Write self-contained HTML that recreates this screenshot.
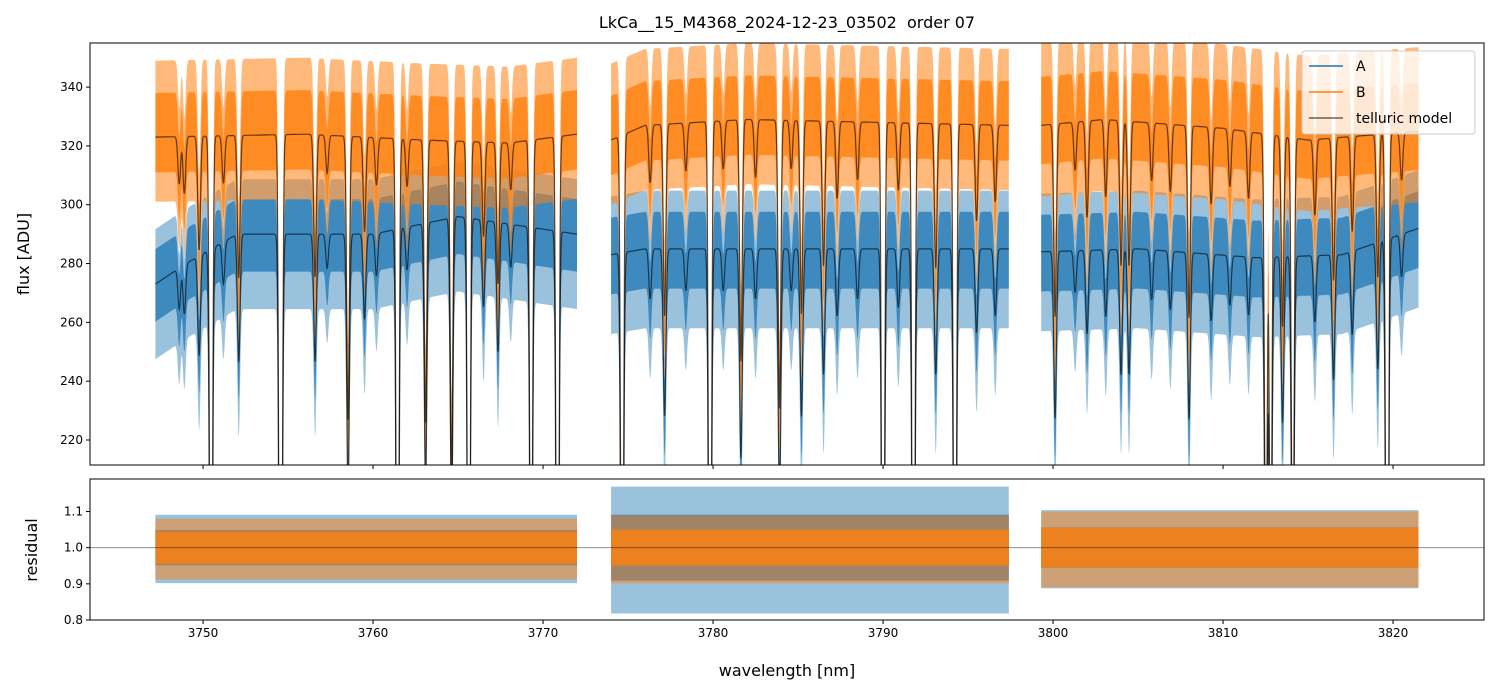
<!DOCTYPE html>
<html><head><meta charset="utf-8"><style>
html,body{margin:0;background:#fff;overflow:hidden;width:1499px;height:696px}
svg{display:block}
svg text{font-family:"DejaVu Sans","Liberation Sans",sans-serif}
</style></head><body>
<svg id="c" width="1499" height="696" xmlns="http://www.w3.org/2000/svg" style="position:absolute;left:0;top:0"></svg>
<script>
const segments=[[3747.2,3772.0],[3774.0,3797.4],[3799.3,3821.5]];
const contAknots=[[[3747.2,273],[3749,280],[3752,290],[3760,290],[3765,296],[3772,290]],[[3774,283],[3776,285],[3797.4,285]],[[3799.3,284],[3805,285],[3812,282],[3817,283],[3821.5,292]]];
const contBknots=[[[3747.2,323],[3756,324],[3763,322],[3768,321],[3772,324]],[[3774,322],[3776,327],[3782,329],[3797.4,327]],[[3799.3,327],[3803,329],[3810,326],[3815,322],[3821.5,325]]];
const lineCenters=[3749.77,3750.47,3752.1,3754.55,3754.6,3756.59,3758.53,3761.44,3763.09,3764.62,3765.63,3767.35,3769.3,3770.85,3774.65,3777.15,3779.82,3781.64,3783.91,3785.2,3790.0,3791.79,3794.23,3793.1,3800.12,3804.0,3804.47,3808.0,3812.52,3812.8,3813.5,3814.1,3819.1,3819.65,3759.5,3766.5,3786.5,3802.0,3816.5,3748.6,3748.9,3751.2,3757.3,3760.2,3762.0,3768.1,3776.3,3778.4,3780.6,3782.5,3784.6,3787.3,3788.5,3790.9,3795.5,3796.6,3801.3,3803.1,3805.8,3806.9,3809.3,3810.4,3811.5,3815.4,3817.6,3820.5];
const lineDepths=[0.12,0.75,0.15,0.75,0.3,0.15,0.3,0.7,0.3,0.35,0.75,0.15,0.6,0.75,0.7,0.2,0.75,0.25,0.3,0.2,0.75,0.75,0.75,0.15,0.2,0.15,0.15,0.2,0.5,0.5,0.2,0.5,0.15,0.8,0.1,0.1,0.15,0.1,0.15,0.05,0.06,0.05,0.04,0.05,0.05,0.05,0.06,0.05,0.05,0.06,0.05,0.08,0.06,0.07,0.1,0.08,0.05,0.08,0.06,0.07,0.08,0.06,0.07,0.08,0.1,0.05];
const noiseA=[17,18,18], noiseB=[20,20,22];
const resA=[0.07,0.13,0.08], resB=[0.08,0.09,0.1];
const xTicks=[3750,3760,3770,3780,3790,3800,3810,3820];
const yTicksTop=[220,240,260,280,300,320,340];
const yTicksBot=[0.8,0.9,1.0,1.1];

const NS="http://www.w3.org/2000/svg",svg=document.getElementById('c');
function el(t,a,p){const e=document.createElementNS(NS,t);for(const k in a)e.setAttribute(k,a[k]);(p||svg).appendChild(e);return e;}
function nm(e,n){return e;}
const L=90,R=1484,T1=43,B1=465,T2=479,B2=620;
const x=v=>L+(v-3743.35)/(3825.35-3743.35)*(R-L);
const y1=v=>B1-(v-211.5)/(355-211.5)*(B1-T1);
const y2=v=>B2-(v-0.8)/(1.19-0.8)*(B2-T2);
function interp(kn,l){if(l<=kn[0][0])return kn[0][1];for(let i=1;i<kn.length;i++)if(l<=kn[i][0]){const t=(l-kn[i-1][0])/(kn[i][0]-kn[i-1][0]);return kn[i-1][1]+t*(kn[i][1]-kn[i-1][1]);}return kn[kn.length-1][1];}
function tell(l){let f=1;for(let i=0;i<lineCenters.length;i++){const d=(l-lineCenters[i])/0.11;f*=1-lineDepths[i]*Math.exp(-d*d);}return f;}
const defs=el('defs',{});const cp=el('clipPath',{id:'cp1'},defs);el('rect',{x:L,y:T1,width:R-L,height:B1-T1},cp);
const cp2=el('clipPath',{id:'cp2'},defs);el('rect',{x:L,y:T2,width:R-L,height:B2-T2},cp2);
const g1=nm(el('g',{'clip-path':'url(#cp1)'}),'flux-plot-area');
function band(g,seg,fnLo,fnHi,col,op,name){let up=[],lo=[];for(let l=seg[0];l<=seg[1];l+=0.02){up.push(x(l).toFixed(1)+','+fnHi(l).toFixed(1));lo.unshift(x(l).toFixed(1)+','+fnLo(l).toFixed(1));}nm(el('polygon',{points:up.concat(lo).join(' '),fill:col,'fill-opacity':op},g),name);}
function model(g,seg,kn,name){let pts=[];for(let l=seg[0];l<=seg[1];l+=0.02)pts.push(x(l).toFixed(1)+','+y1(interp(kn,l)*tell(l)).toFixed(1));nm(el('polyline',{points:pts.join(' '),fill:'none',stroke:'#000','stroke-opacity':0.6,'stroke-width':1.2},g),name);}
segments.forEach((s,i)=>{
 const mA=l=>interp(contAknots[i],l)*tell(l), mB=l=>interp(contBknots[i],l)*tell(l);
 band(g1,s,l=>y1(mA(l)-noiseA[i]*1.5),l=>y1(mA(l)+noiseA[i]*1.1),'#1f77b4',0.45,'series-a-outer');
 band(g1,s,l=>y1(mA(l)-noiseA[i]*0.75),l=>y1(mA(l)+noiseA[i]*0.7),'#1f77b4',0.75,'series-a-core');
 band(g1,s,l=>y1(mB(l)-noiseB[i]*1.1),l=>y1(mB(l)+noiseB[i]*1.3),'#ff7f0e',0.55,'series-b-outer');
 band(g1,s,l=>y1(mB(l)-noiseB[i]*0.6),l=>y1(mB(l)+noiseB[i]*0.75),'#ff7f0e',0.8,'series-b-core');
});
segments.forEach((s,i)=>{model(g1,s,contAknots[i],'telluric-model-a');model(g1,s,contBknots[i],'telluric-model-b');});
const g2=nm(el('g',{'clip-path':'url(#cp2)'}),'residual-plot-area');
segments.forEach((s,i)=>{
 band(g2,s,()=>y2(1-resA[i]*1.4),()=>y2(1+resA[i]*1.3),'#1f77b4',0.45,'residual-a-outer');
 band(g2,s,()=>y2(1-resA[i]*0.7),()=>y2(1+resA[i]*0.7),'#1f77b4',0.75,'residual-a-core');
 band(g2,s,()=>y2(1-resB[i]*1.1),()=>y2(1+resB[i]),'#ff7f0e',0.5,'residual-b-outer');
 band(g2,s,()=>y2(1-resB[i]*0.55),()=>y2(1+resB[i]*0.55),'#ff7f0e',0.8,'residual-b-core');
});
nm(el('line',{x1:L,x2:R,y1:y2(1),y2:y2(1),stroke:'#000','stroke-opacity':0.5,'stroke-width':0.8}),'residual-unity-line');
[[T1,B1],[T2,B2]].forEach(([t,b],k)=>{nm(el('rect',{x:L,y:t,width:R-L,height:b-t,fill:'none',stroke:'#000','stroke-width':1}),k?'residual-frame':'flux-frame');
 xTicks.forEach(v=>{el('line',{x1:x(v),x2:x(v),y1:b,y2:b+4,stroke:'#000'});});});
xTicks.forEach(v=>{const t=nm(el('text',{x:x(v),y:B2+17,'font-size':12,'text-anchor':'middle'}),'x-tick-label');t.textContent=v;});
yTicksTop.forEach(v=>{el('line',{x1:L-4,x2:L,y1:y1(v),y2:y1(v),stroke:'#000'});const t=nm(el('text',{x:L-7,y:y1(v)+4,'font-size':12,'text-anchor':'end'}),'y-tick-label');t.textContent=v;});
yTicksBot.forEach(v=>{el('line',{x1:L-4,x2:L,y1:y2(v),y2:y2(v),stroke:'#000'});const t=nm(el('text',{x:L-7,y:y2(v)+4,'font-size':12,'text-anchor':'end'}),'residual-tick-label');t.textContent=v.toFixed(1);});
let t=nm(el('text',{x:787,y:28,'font-size':16,'text-anchor':'middle'}),'chart-title');t.textContent='LkCa__15_M4368_2024-12-23_03502\u00a0 order 07';
t=nm(el('text',{x:787,y:676,'font-size':16,'text-anchor':'middle'}),'x-axis-title');t.textContent='wavelength [nm]';
t=nm(el('text',{x:0,y:0,'font-size':16,'text-anchor':'middle',transform:'translate(29,254) rotate(-90)'}),'y-axis-title');t.textContent='flux [ADU]';
t=nm(el('text',{x:0,y:0,'font-size':16,'text-anchor':'middle',transform:'translate(37,550) rotate(-90)'}),'residual-axis-title');t.textContent='residual';
const lg=nm(el('g',{}),'legend');
el('rect',{x:1302,y:51,width:173,height:83,rx:3,fill:'#fff','fill-opacity':0.8,stroke:'#ccc'},lg);
[['A','#1f77b4',1],['B','#ff7f0e',1],['telluric model','#000',0.6]].forEach((e,i)=>{
 const gy=66+i*26;const gg=nm(el('g',{},lg),'legend-entry-'+(i<2?e[0].toLowerCase():'telluric'));
 el('line',{x1:1309,x2:1343,y1:gy,y2:gy,stroke:e[1],'stroke-opacity':e[2],'stroke-width':1.5},gg);
 const tx=el('text',{x:1356,y:gy+5,'font-size':14},gg);tx.textContent=e[0];
});
</script>
</body></html>
